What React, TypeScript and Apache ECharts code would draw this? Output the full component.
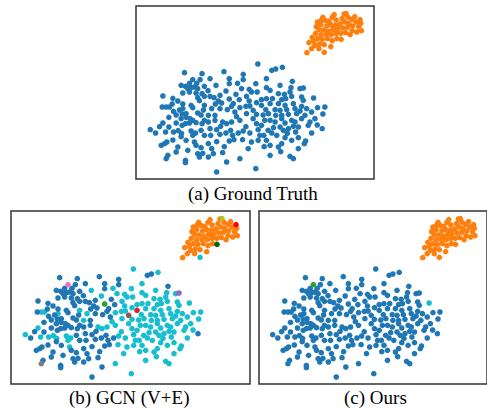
import React, { useEffect, useRef } from 'react';
import * as echarts from 'echarts';

// Label colours (matplotlib tab10-like)
const PALETTE: Record<string, string> = {
  B: '#1f77b4', O: '#ff7f0e', C: '#17becf', P: '#e377c2', G: '#2ca02c',
  R: '#d62728', N: '#8c564b', U: '#9467bd', Y: '#7f7f7f', L: '#bcbd22',
  D: '#006400', Q: '#ff0000',
};

const captions = ['(a) Ground Truth', '(b) GCN (V+E)', '(c) Ours'];

// True class 0 (blue) nodes: [x, y, GCN label, Ours label]
const class0Points: [number, number, string, string][] = [
  [376,192,'C','B'],[450,202,'C','B'],[418,211,'B','B'],[430,207,'B','B'],[155,218,'B','B'],
  [208,221,'B','B'],[274,215,'B','B'],[332,223,'B','B'],[232,236,'B','B'],[290,236,'B','B'],
  [332,239,'B','B'],[402,236,'C','B'],[180,239,'P','G'],[202,239,'B','B'],
  [145,256,'B','B'],[158,259,'B','B'],[165,266,'B','B'],[175,263,'B','B'],[185,261,'B','B'],
  [195,266,'B','B'],[215,259,'B','B'],[192,250,'B','B'],[170,250,'B','B'],[290,251,'B','B'],
  [370,251,'C','B'],[250,256,'C','B'],[327,266,'C','B'],[357,276,'C','B'],[374,276,'C','B'],
  [402,263,'C','B'],[280,273,'C','B'],[443,256,'C','B'],[480,244,'B','B'],[513,264,'U','B'],
  [413,271,'C','B'],[438,281,'C','B'],[456,283,'C','B'],[473,276,'C','B'],[476,263,'C','B'],
  [503,266,'C','B'],[226,272,'B','B'],[150,279,'B','B'],[170,276,'B','B'],[190,279,'B','B'],
  [208,281,'B','B'],[350,268,'C','B'],[315,250,'C','B'],
  [90,288,'B','B'],[215,289,'B','B'],[195,293,'B','B'],[310,283,'B','B'],[232,289,'B','B'],
  [244,293,'B','B'],[262,286,'B','B'],[342,289,'C','B'],[402,296,'C','B'],[290,297,'G','B'],
  [320,299,'B','B'],[257,303,'B','B'],[267,309,'B','B'],[350,303,'C','B'],[387,299,'C','B'],
  [302,311,'B','B'],[135,303,'B','B'],[150,312,'B','B'],[175,316,'B','B'],[215,316,'C','B'],
  [420,296,'C','B'],[448,299,'C','B'],[460,296,'C','B'],[478,289,'C','B'],[508,291,'C','B'],
  [513,301,'C','B'],[544,294,'C','C'],[413,311,'C','B'],[438,311,'C','B'],
  [458,316,'C','B'],[483,311,'C','B'],[508,319,'C','B'],[372,308,'C','B'],[120,295,'B','B'],
  [118,312,'B','B'],[200,302,'B','B'],[248,312,'B','B'],[352,318,'C','B'],
  [88,321,'B','B'],[100,321,'C','B'],[110,321,'C','B'],[150,326,'C','B'],[180,323,'B','B'],
  [195,339,'B','B'],[160,341,'B','B'],[237,326,'C','B'],[262,326,'B','B'],[284,329,'B','B'],
  [297,319,'B','B'],[322,323,'C','B'],[340,319,'C','B'],[362,331,'N','B'],[387,316,'R','B'],
  [400,329,'C','B'],[428,329,'C','B'],[443,331,'C','B'],[463,329,'C','B'],[488,326,'C','B'],
  [503,333,'C','B'],[523,326,'C','B'],[556,323,'C','B'],[578,321,'C','B'],[408,341,'C','B'],
  [448,346,'C','B'],[468,343,'C','B'],[493,341,'C','B'],[518,346,'C','B'],[538,336,'C','B'],
  [227,346,'C','B'],[247,346,'B','B'],[307,336,'B','B'],[342,341,'C','B'],[372,343,'C','B'],
  [140,330,'B','B'],[130,345,'B','B'],[148,342,'B','B'],[160,352,'B','B'],[172,356,'B','B'],
  [205,345,'B','B'],[212,330,'B','B'],[108,352,'B','B'],[122,334,'B','B'],[572,342,'C','B'],
  [312,350,'C','B'],[392,345,'C','B'],[430,346,'C','B'],
  [227,366,'B','B'],[247,361,'B','B'],[270,366,'C','B'],[282,371,'C','B'],[297,366,'C','B'],
  [322,361,'C','B'],[264,379,'B','B'],[362,356,'C','B'],[372,371,'C','B'],[387,376,'C','B'],
  [397,361,'C','B'],[407,391,'C','B'],[232,386,'B','B'],[252,389,'B','B'],[280,399,'B','B'],
  [294,391,'B','B'],[317,399,'B','B'],[332,393,'C','B'],[352,399,'C','B'],[377,389,'C','B'],
  [413,361,'C','B'],[428,366,'C','B'],[448,356,'C','B'],[458,369,'C','B'],[478,361,'C','B'],
  [488,366,'C','B'],[508,356,'C','B'],[533,366,'C','B'],[548,356,'C','B'],[570,386,'B','B'],
  [423,383,'C','B'],[443,381,'C','B'],[453,391,'C','B'],[468,386,'C','B'],[483,379,'C','B'],
  [498,381,'C','B'],[528,376,'C','B'],[538,399,'C','B'],[418,399,'C','B'],[52,389,'C','B'],
  [68,399,'B','B'],[90,369,'C','B'],[98,396,'C','B'],[108,381,'B','B'],[130,369,'B','B'],
  [145,356,'B','B'],[148,376,'B','B'],[158,371,'B','B'],[122,396,'C','B'],[136,392,'C','B'],
  [146,400,'C','B'],[180,361,'B','B'],[170,369,'B','B'],[190,368,'B','B'],[175,393,'C','B'],
  [188,399,'C','B'],[180,406,'C','B'],[208,371,'B','B'],[215,361,'B','B'],[205,391,'B','B'],
  [215,406,'B','B'],[80,380,'B','B'],[340,380,'C','B'],[465,400,'C','B'],[490,396,'C','B'],
  [555,375,'C','B'],
  [234,406,'B','B'],[262,403,'B','B'],[300,406,'B','B'],[382,406,'C','B'],[290,423,'B','B'],
  [304,419,'B','B'],[330,419,'C','B'],[357,426,'C','B'],[377,421,'C','B'],[394,406,'C','B'],
  [402,421,'C','B'],[227,431,'B','B'],[433,406,'C','B'],[458,413,'C','B'],[478,421,'C','B'],
  [498,413,'C','B'],[520,423,'C','B'],[516,431,'C','B'],[413,436,'C','B'],[438,441,'C','B'],
  [448,431,'C','B'],[185,426,'C','B'],[160,421,'B','B'],[102,426,'B','B'],[95,431,'B','B'],
  [85,436,'B','B'],[135,441,'B','B'],[190,436,'B','B'],[205,443,'B','B'],[237,446,'B','B'],
  [347,446,'C','B'],[395,440,'C','B'],[252,425,'B','B'],[275,440,'B','B'],[120,420,'B','B'],
  [145,410,'B','B'],
  [130,456,'B','B'],[165,451,'B','B'],[195,461,'B','B'],[200,471,'B','B'],[105,466,'B','B'],
  [100,476,'Y','B'],[158,481,'B','B'],[158,488,'B','B'],[242,461,'B','B'],[227,471,'B','B'],
  [282,486,'B','B'],[322,476,'C','B'],[370,506,'C','B'],[252,516,'B','B'],[498,446,'C','B'],
  [413,466,'C','B'],[473,469,'C','B'],[483,476,'C','B'],[210,460,'B','B'],[270,458,'B','B'],
  [445,455,'C','B'],
];

// True class 1 (orange) nodes: [x, y, GCN label, Ours label]
const class1Points: [number, number, string, string][] = [
  [606,44,'O','O'],[600,52,'O','O'],[572,52,'O','O'],[568,60,'O','O'],[580,62,'O','O'],
  [556,66,'O','O'],[590,64,'O','O'],[612,60,'O','O'],[630,56,'O','O'],[648,52,'O','O'],
  [660,58,'O','O'],[672,66,'O','O'],[686,70,'O','O'],[680,80,'O','O'],[688,92,'O','O'],
  [662,78,'O','O'],[650,70,'O','O'],[638,66,'O','O'],[624,72,'O','O'],[610,76,'O','O'],
  [596,74,'O','O'],[584,78,'O','O'],[566,74,'O','O'],[552,80,'O','O'],[560,88,'O','O'],
  [574,90,'O','O'],[588,94,'O','O'],[602,88,'O','O'],[616,86,'O','O'],[632,84,'O','O'],
  [646,82,'O','O'],[660,92,'O','O'],[674,96,'O','O'],[654,104,'O','O'],[640,98,'O','O'],
  [626,100,'O','O'],[612,100,'O','O'],[598,104,'O','O'],[582,104,'O','O'],[566,104,'O','O'],
  [550,100,'O','O'],[540,112,'O','O'],[556,116,'O','O'],[570,118,'O','O'],[586,116,'O','O'],
  [600,122,'O','O'],[614,116,'O','O'],[544,124,'O','O'],[530,128,'O','O'],[548,136,'O','O'],
  [562,132,'O','O'],[576,134,'O','O'],[596,140,'O','O'],[538,146,'O','O'],[524,158,'O','O'],
  [560,146,'O','O'],[614,92,'O','O'],[668,50,'O','O'],[636,42,'O','O'],
  [642,41,'L','O'],[684,59,'Q','O'],[627,118,'D','O'],[576,157,'C','O'],
];

const X_RANGE = [9, 726];
const Y_RANGE = [18, 537];

export default function App() {
  const ref = useRef<HTMLDivElement>(null);
  useEffect(() => {
    document.body.style.margin = '0';
    if (!ref.current) return;
    const chart = echarts.init(ref.current, undefined, { renderer: 'svg' });
    const grids = [
      { left: 136, top: 6, width: 238, height: 173 },
      { left: 11, top: 211, width: 239, height: 173 },
      { left: 259, top: 211, width: 239, height: 173 },
    ];
    const series: any[] = [];
    const labelOf = (panel: number, p: [number, number, string, string], trueLabel: string) =>
      panel === 0 ? trueLabel : panel === 1 ? p[2] : p[3];
    for (let g = 0; g < 3; g++) {
      const groups: Record<string, number[][]> = {};
      const order: string[] = [];
      const add = (pts: [number, number, string, string][], t: string) => {
        pts.forEach((p) => {
          const l = labelOf(g, p, t);
          if (!groups[l]) { groups[l] = []; order.push(l); }
          groups[l].push([p[0], p[1]]);
        });
      };
      add(class0Points, 'B');
      add(class1Points, 'O');
      const sorted = order.sort((a, b) => groups[b].length - groups[a].length);
      sorted.forEach((l) => {
        series.push({
          type: 'scatter', xAxisIndex: g, yAxisIndex: g, data: groups[l],
          symbol: 'circle', symbolSize: 5.6, silent: true,
          itemStyle: { color: PALETTE[l], opacity: 1 },
        });
      });
    }
    chart.setOption({
      animation: false,
      textStyle: { fontFamily: 'serif' },
      grid: grids.map((r) => ({ ...r, show: true, borderColor: '#333', borderWidth: 1.5, backgroundColor: '#fff' })),
      xAxis: grids.map((_, i) => ({ gridIndex: i, type: 'value', min: X_RANGE[0], max: X_RANGE[1], show: false })),
      yAxis: grids.map((_, i) => ({ gridIndex: i, type: 'value', min: Y_RANGE[0], max: Y_RANGE[1], inverse: true, show: false })),
      series,
      title: captions.map((t, i) => ({
        text: t,
        left: [188, 69, 344][i], top: [184, 388, 388][i],
        textStyle: { fontFamily: 'serif', fontSize: 19, fontWeight: 'normal', color: '#000' },
        padding: 0,
      })),
    });
    return () => chart.dispose();
  }, []);
  return <div ref={ref} style={{ width: 487, height: 408 }} />;
}
